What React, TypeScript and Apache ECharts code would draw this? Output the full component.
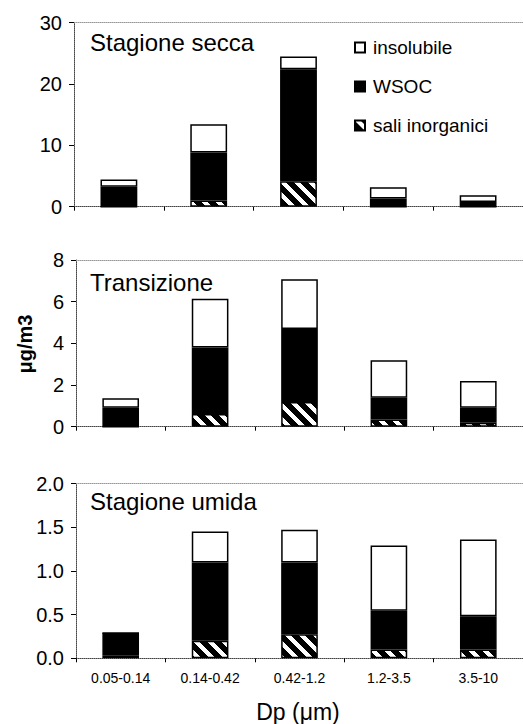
import React, { useEffect, useRef } from "react";
import * as echarts from "echarts";

const categories = ["0.05-0.14", "0.14-0.42", "0.42-1.2", "1.2-3.5", "3.5-10"];
const seriesNames = ["insolubile", "WSOC", "sali inorganici"];
const panelTitles = ["Stagione secca", "Transizione", "Stagione umida"];

// Stagione secca
const secSali = [0, 1.0, 4.15, 0, 0];
const secWsoc = [3.25, 7.85, 18.25, 1.35, 0.75];
const secInsol = [1.18, 4.6, 2.1, 1.83, 1.13];
// Transizione
const traSali = [0, 0.61, 1.18, 0.35, 0.19];
const traWsoc = [0.91, 3.19, 3.51, 1.04, 0.72];
const traInsol = [0.45, 2.34, 2.39, 1.8, 1.28];
// Stagione umida
const umiSali = [0.03, 0.2, 0.275, 0.1, 0.1];
const umiWsoc = [0.26, 0.895, 0.82, 0.445, 0.38];
const umiInsol = [0, 0.355, 0.375, 0.745, 0.88];

const yMax = [30, 8, 2];
const yInterval = [10, 2, 0.5];

const FONT = "Liberation Sans, Arial, sans-serif";

function makeHatch(): HTMLCanvasElement {
  const P = 14;
  const w = 6;
  const c = document.createElement("canvas");
  c.width = P;
  c.height = P;
  const ctx = c.getContext("2d")!;
  const img = ctx.createImageData(P, P);
  for (let y = 0; y < P; y++) {
    for (let x = 0; x < P; x++) {
      const m = (((x - y) % P) + P) % P;
      const v = m < w ? 255 : 0;
      const i = (y * P + x) * 4;
      img.data[i] = v;
      img.data[i + 1] = v;
      img.data[i + 2] = v;
      img.data[i + 3] = 255;
    }
  }
  ctx.putImageData(img, 0, 0);
  return c;
}

export default function App() {
  const ref = useRef<HTMLDivElement>(null);
  useEffect(() => {
    if (!ref.current) return;
    const chart = echarts.init(ref.current, null, { renderer: "svg" });
    const hatch = { image: makeHatch(), repeat: "repeat" } as any;

    const grids = [
      { left: 74, right: 0, top: 22.7, height: 184 },
      { left: 76, right: 0, top: 260, height: 166.7 },
      { left: 76, right: 0, top: 483.5, height: 174.8 },
    ];
    const data = [
      [secSali, secWsoc, secInsol],
      [traSali, traWsoc, traInsol],
      [umiSali, umiWsoc, umiInsol],
    ];

    const xAxis: any[] = [];
    const yAxis: any[] = [];
    const series: any[] = [];
    grids.forEach((g, i) => {
      xAxis.push({
        type: "category",
        gridIndex: i,
        data: categories,
        axisLine: { lineStyle: { color: "#444", type: "dotted", width: 1 } },
        axisTick: { show: true, length: 4, lineStyle: { color: "#000" } },
        axisLabel: {
          show: i === 2,
          fontSize: 14,
          color: "#000",
          fontFamily: FONT,
          margin: 13,
        },
      });
      xAxis.push({
        type: "category",
        gridIndex: i,
        position: "top",
        data: categories,
        axisLine: { lineStyle: { color: "#999", type: "dotted", width: 1 } },
        axisTick: { show: false },
        axisLabel: { show: false },
      });
      yAxis.push({
        type: "value",
        gridIndex: i,
        min: 0,
        max: yMax[i],
        interval: yInterval[i],
        axisLine: { show: true, lineStyle: { color: "#444", type: "dotted", width: 1 } },
        axisTick: { show: true, length: 5, lineStyle: { color: "#000" } },
        axisLabel: {
          fontSize: 20,
          color: "#000",
          fontFamily: FONT,
          margin: 12,
          formatter: (v: number) => (i === 2 ? v.toFixed(1) : String(v)),
        },
        splitLine: { show: false },
      });
      const [sali, wsoc, insol] = data[i];
      const common = {
        type: "bar",
        xAxisIndex: i * 2,
        yAxisIndex: i,
        stack: "p" + i,
        barWidth: "41%",
      };
      series.push({
        ...common,
        name: "sali inorganici",
        data: sali,
        itemStyle: { color: hatch, borderColor: "#000", borderWidth: 1.5 },
      });
      series.push({
        ...common,
        name: "WSOC",
        data: wsoc,
        itemStyle: { color: "#000", borderColor: "#000", borderWidth: 1.5 },
      });
      series.push({
        ...common,
        name: "insolubile",
        data: insol,
        itemStyle: { color: "#fff", borderColor: "#000", borderWidth: 1.5 },
      });
    });

    const titleY = [42, 282, 501];
    const graphic: any[] = panelTitles.map((t, i) => ({
      type: "text",
      x: 90,
      y: titleY[i],
      style: {
        text: t,
        font: `24px ${FONT}`,
        fill: "#000",
        verticalAlign: "middle",
      },
    }));
    graphic.push({
      type: "text",
      x: 25,
      y: 344,
      rotation: Math.PI / 2,
      style: {
        text: "μg/m3",
        font: `bold 20px ${FONT}`,
        fill: "#000",
        align: "center",
        verticalAlign: "middle",
      },
    });
    graphic.push({
      type: "text",
      x: 298,
      y: 712,
      style: {
        text: "Dp (μm)",
        font: `23px ${FONT}`,
        fill: "#000",
        align: "center",
        verticalAlign: "middle",
      },
    });

    chart.setOption({
      animation: false,
      backgroundColor: "#fff",
      grid: grids,
      xAxis,
      yAxis,
      series,
      legend: {
        data: seriesNames,
        orient: "vertical",
        left: 349,
        top: 33,
        itemWidth: 10,
        itemHeight: 10,
        itemGap: 20,
        icon: "rect",
        textStyle: { fontSize: 19, color: "#000", fontFamily: FONT, padding: [0, 0, 0, 3] },
        selectedMode: false,
      },
      graphic,
    });
    return () => chart.dispose();
  }, []);
  return (
    <div
      ref={ref}
      style={{ position: "absolute", left: 0, top: 0, width: 523, height: 724 }}
    />
  );
}
